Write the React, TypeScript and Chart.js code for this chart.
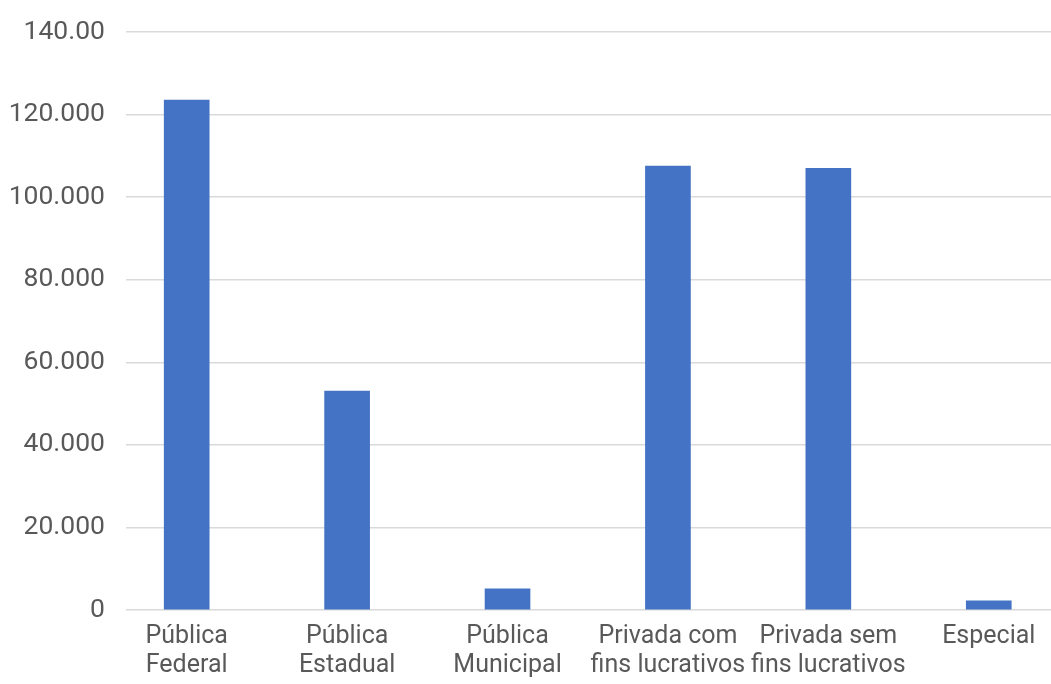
import React, { useEffect, useRef } from "react";
import { Chart, registerables } from "chart.js";

Chart.register(...registerables);

const categories = [
  "Pública Federal",
  "Pública Estadual",
  "Pública Municipal",
  "Privada com fins lucrativos",
  "Privada sem fins lucrativos",
  "Especial",
];
const categoryLines = [
  ["Pública", "Federal"],
  ["Pública", "Estadual"],
  ["Pública", "Municipal"],
  ["Privada com", "fins lucrativos"],
  ["Privada sem", "fins lucrativos"],
  ["Especial"],
];
const values = [123500, 53000, 5100, 107500, 107000, 2200];
const yTickLabels = ["0", "20.000", "40.000", "60.000", "80.000", "100.000", "120.000", "140.00"];

export default function App() {
  const ref = useRef<HTMLCanvasElement | null>(null);
  useEffect(() => {
    if (!ref.current) return;
    const chart = new Chart(ref.current, {
      type: "bar",
      data: {
        datasets: [
          {
            label: "Total",
            data: categories.map((_, i) => ({ x: i, y: values[i] })),
            backgroundColor: "#4472C4",
            barThickness: 45,
          },
        ],
      },
      options: {
        animation: false,
        responsive: false,
        layout: { padding: { top: 32, left: 0, right: 0, bottom: 0 } },
        plugins: { legend: { display: false }, tooltip: { enabled: false } },
        scales: {
          x: {
            type: "linear",
            offset: false,
            min: -0.3784,
            max: 5.388,
            grid: { display: false, drawTicks: false, offset: false },
            border: { display: false },
            afterBuildTicks: (s: any) => {
              s.ticks = categories.map((_, i) => ({ value: i }));
            },
            afterFit: (s: any) => {
              s.height = 74;
              s.paddingLeft = 0;
              s.paddingRight = 0;
            },
            ticks: {
              autoSkip: false,
              maxRotation: 0,
              padding: 12,
              color: "#595959",
              font: { family: "Roboto", size: 25, lineHeight: 1.16 },
              callback: (_v: any, i: number) => categoryLines[i],
            },
          },
          y: {
            min: 0,
            max: 140000,
            grid: { color: "#d9d9d9", lineWidth: 1.5, drawTicks: false },
            border: { display: false },
            afterFit: (s: any) => {
              s.width = 126;
              s.paddingTop = 0;
              s.paddingBottom = 0;
            },
            ticks: {
              stepSize: 20000,
              padding: 21,
              color: "#595959",
              font: { family: "Roboto", size: 26.5 },
              callback: (_v: any, i: number) => yTickLabels[i],
            },
          },
        },
      },
    });
    return () => chart.destroy();
  }, []);
  return (
    <div style={{ position: "absolute", left: 0, top: 0, width: 1051, height: 684, background: "#fff" }}>
      <canvas ref={ref} width={1051} height={684} style={{ display: "block" }} />
    </div>
  );
}
